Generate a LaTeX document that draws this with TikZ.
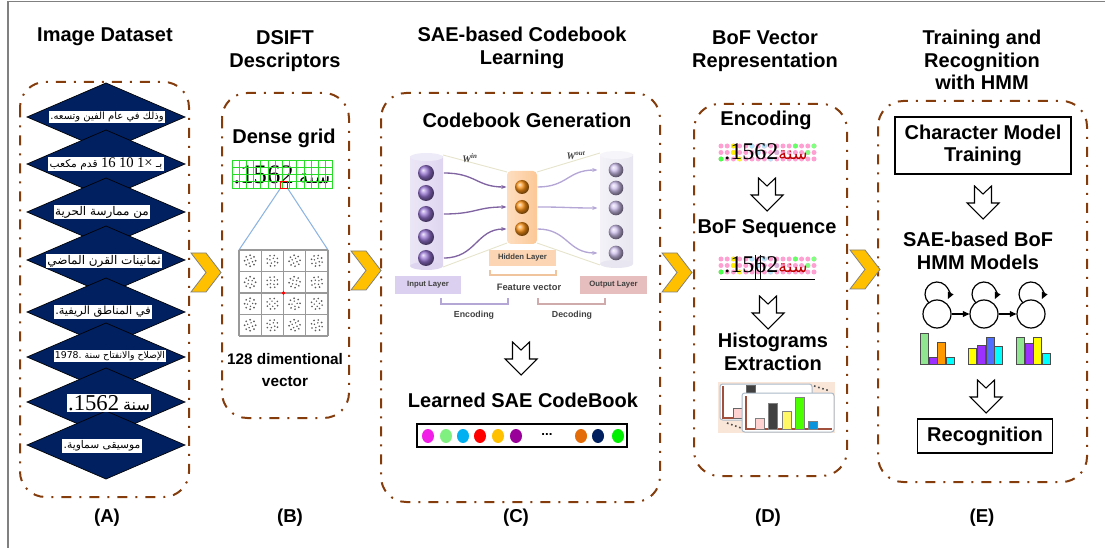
\documentclass[tikz,border=0pt]{standalone}
\usepackage{fontspec}
\setmainfont{Liberation Sans}
\newfontfamily\arabicfont[Script=Arabic]{DejaVu Sans}
\newfontfamily\serifnum{Liberation Serif}
\TeXXeTstate=1
\usetikzlibrary{arrows.meta}

\definecolor{stagebrown}{RGB}{132,60,12}
\definecolor{dsnavy}{RGB}{0,32,96}
\definecolor{chevyellow}{RGB}{255,192,0}
\definecolor{framegray}{RGB}{128,128,128}
\definecolor{gridgreen}{RGB}{40,220,40}
\definecolor{linkblue}{RGB}{141,180,226}
\definecolor{inball}{RGB}{150,115,210}
\definecolor{hidball}{RGB}{250,145,20}
\definecolor{outball}{RGB}{205,190,235}
\definecolor{inbody}{RGB}{222,214,240}
\definecolor{outbody}{RGB}{232,230,240}
\definecolor{hidbody}{RGB}{252,200,150}
\definecolor{inlbl}{RGB}{220,208,240}
\definecolor{hidlbl}{RGB}{252,214,180}
\definecolor{outlbl}{RGB}{230,190,190}
\definecolor{lbltext}{RGB}{64,64,64}
\definecolor{encline}{RGB}{128,100,162}
\definecolor{decline}{RGB}{180,167,214}
\definecolor{faint}{RGB}{230,228,205}
\definecolor{pinkdot}{RGB}{255,160,210}
\definecolor{histbg}{RGB}{250,230,216}
\definecolor{cardedge}{RGB}{170,185,200}
\definecolor{axisbrown}{RGB}{160,80,60}
\definecolor{cbA}{RGB}{240,30,230}
\definecolor{cbB}{RGB}{128,240,128}
\definecolor{cbC}{RGB}{0,176,240}
\definecolor{cbD}{RGB}{255,0,0}
\definecolor{cbE}{RGB}{255,192,0}
\definecolor{cbF}{RGB}{153,0,153}
\definecolor{cbG}{RGB}{227,108,9}
\definecolor{cbH}{RGB}{0,32,96}
\definecolor{cbI}{RGB}{0,240,0}
\definecolor{hgreen}{RGB}{144,230,144}
\definecolor{hpurple}{RGB}{155,48,255}
\definecolor{horange}{RGB}{255,153,0}
\definecolor{hcyan}{RGB}{0,255,255}
\definecolor{hyellow}{RGB}{255,255,0}
\definecolor{hblue}{RGB}{80,110,255}

\tikzset{every picture/.style={line width=0.75pt}}
\tikzset{
  stagebox/.style={draw=stagebrown, line width=1.5pt, rounded corners=19pt, dash pattern=on 7.5pt off 6pt on 1.5pt off 6pt},
  headtxt/.style={font=\bfseries\fontsize{15}{17}\selectfont, align=center, inner sep=0pt},
  tagtxt/.style={font=\bfseries\fontsize{14}{16}\selectfont, inner sep=0pt},
  dsdiamond/.style={draw=black, line width=0.5pt, fill=dsnavy},
  arstrip/.style={fill=white, inner sep=1pt},
  chevron/.style={draw=framegray, line width=0.6pt, fill=chevyellow},
  layerlbl/.style={font=\bfseries\fontsize{5.8}{6}\selectfont, text=lbltext, minimum width=50pt, minimum height=14pt, inner sep=0pt},
  smalltxt/.style={font=\bfseries\fontsize{6.6}{7}\selectfont, text=lbltext, inner sep=0pt},
  incell/.style={circle, shade, ball color=inball, minimum size=12pt, inner sep=0pt},
  hidcell/.style={circle, shade, ball color=hidball, minimum size=10.5pt, inner sep=0pt},
  outcell/.style={circle, shade, ball color=outball, minimum size=11pt, inner sep=0pt},
  hmmstate/.style={circle, draw, line width=0.9pt, minimum size=21pt, inner sep=0pt},
  hmmarrow/.style={line width=0.9pt, -{Triangle[length=5pt,width=4.5pt]}},
  histbar/.style={draw=black!70, line width=0.6pt},
  hollowdown/.pic={\draw[line width=0.8pt, fill=white] (-8.5,16) -- (0,8) -- (8.5,16) -- (8.5,-1) -- (16,-1) -- (0,-17) -- (-16,-1) -- (-8.5,-1) -- cycle;}
}

\begin{document}
\begin{tikzpicture}[x=0.75pt,y=0.75pt,yscale=-1,xscale=1]
\useasboundingbox (0,0) rectangle (1105,548);

%Frame
\draw[framegray, line width=1.2pt] (8,548) -- (8,1.5) -- (1105,1.5);

%Stage titles
\node[headtxt] (titleA) at (105,37) {Image Dataset};
\node[headtxt] (titleB) at (285,51) {DSIFT\\Descriptors};
\node[headtxt] (titleC) at (522,48) {SAE-based Codebook\\Learning};
\node[headtxt] (titleD) at (765,51) {BoF Vector\\Representation};
\node[headtxt] (titleE) at (982,60) {Training and\\Recognition\\with HMM};

%Stage frames
\draw[stagebox] (20,82) rectangle (189,497);
\draw[stagebox] (222,93) rectangle (349,418);
\draw[stagebox] (381,93) rectangle (660,502);
\draw[stagebox] (694,104) rectangle (847,476);
\draw[stagebox] (878,101) rectangle (1087,482);

%Chevrons between stages
\foreach \xc/\yc in {191/253, 351/251, 662/253, 850/250}
  \draw[chevron] (\xc,\yc) -- ++(15,0) -- ++(15,19.5) -- ++(-15,19.5) -- ++(-15,0) -- ++(15,-19.5) -- cycle;

%Shape: Diamonds (image dataset)
\foreach \yc in {117,164,212,260,312,357,402,445}
  \draw[dsdiamond] (106,\yc-34) -- (185,\yc) -- (106,\yc+34) -- (27,\yc) -- cycle;
\node[arstrip, font=\arabicfont\fontsize{7.5}{8}\selectfont] (line1) at (107,117) {\beginR وذلك في عام الفين وتسعه.\endR};
\node[arstrip, font=\arabicfont\fontsize{8}{9}\selectfont] (line2) at (106,164) {\beginR بـ {\serifnum\fontsize{11}{11}\selectfont 1×} {\serifnum\fontsize{11}{11}\selectfont 10} {\serifnum\fontsize{11}{11}\selectfont 16} قدم مكعب\endR};
\node[arstrip, font=\arabicfont\fontsize{9}{10}\selectfont] (line3) at (102,212) {\beginR من ممارسة الحرية\endR};
\node[arstrip, font=\arabicfont\fontsize{9}{10}\selectfont] (line4) at (104,261) {\beginR ثمانينات القرن الماضي\endR};
\node[arstrip, font=\arabicfont\fontsize{8.5}{9}\selectfont] (line5) at (103,312) {\beginR في المناطق الريفية.\endR};
\node[arstrip, font=\arabicfont\fontsize{7}{8}\selectfont] (line6) at (110,356) {\beginR الإصلاح والانفتاح سنة \beginL.1978\endL\endR};
\node[arstrip] (line7) at (109,403) {{\serifnum\fontsize{17}{17}\selectfont .1562}\hspace{3pt}{\arabicfont\fontsize{12}{12}\selectfont سنة}};
\node[arstrip, font=\arabicfont\fontsize{8}{9}\selectfont] (line8) at (102,446) {\beginR موسيقى سماوية.\endR};

%DSIFT descriptors
\node[headtxt] (denseHd) at (284,138) {Dense grid};
\node[inner sep=0pt] (denseTxt) at (282,175) {{\serifnum\fontsize{20}{20}\selectfont .1562}\hspace{4pt}{\arabicfont\fontsize{14}{14}\selectfont سنة}};
\foreach \k in {0,...,14} \draw[gridgreen, line width=0.6pt] (232+\k*7.2,160) -- (232+\k*7.2,188);
\foreach \k in {0,...,4} \draw[gridgreen, line width=0.6pt] (232,160+\k*7) -- (333,160+\k*7);
\node[draw=red, line width=1.2pt, minimum size=5pt, inner sep=0pt] (patch) at (284,185) {};
\coordinate (siftNW) at (239,250);
\coordinate (siftNE) at (328,250);
\draw[linkblue, line width=0.8pt] (patch.south west) -- (siftNW);
\draw[linkblue, line width=0.8pt] (patch.south east) -- (siftNE);
\foreach \k in {0,...,4} {
  \draw[black!40, line width=1pt] (239+\k*22.25,250) -- (239+\k*22.25,336);
  \draw[black!40, line width=1pt] (239,250+\k*21.5) -- (328,250+\k*21.5);
}
\foreach \cx in {0,...,3} \foreach \cy in {0,...,3} {
  \foreach \a in {0,45,...,315}
    \fill[black!65] ({250.1+\cx*22.25+5.5*cos(\a+\cx*20)}, {260.75+\cy*21.5+5.5*sin(\a+\cx*20)}) circle (0.9);
  \foreach \a in {22,112,202,292}
    \fill[black!65] ({250.1+\cx*22.25+2.6*cos(\a+\cy*30)}, {260.75+\cy*21.5+2.6*sin(\a+\cy*30)}) circle (0.8);
}
\fill[red] (283.5,293) circle (1.8);
\node[font=\bfseries\fontsize{11.5}{17}\selectfont, align=center, inner sep=0pt] (dimTxt) at (285,370) {128 dimentional\\vector};

%SAE codebook generation
\node[headtxt] (cgenHd) at (527,120) {Codebook Generation};
\draw[faint, line width=0.7pt] (443,155) -- (507,172);
\draw[faint, line width=0.7pt] (443,267) -- (507,243);
\draw[faint, line width=0.7pt] (537,172) -- (600,153);
\draw[faint, line width=0.7pt] (537,243) -- (600,265);
\shade[left color=inbody!60, right color=inbody] (410,157) rectangle (443,266);
\fill[inbody] (426.5,266) ellipse (16.5 and 4);
\fill[inbody!50] (426.5,157) ellipse (16.5 and 4);
\shade[left color=outbody!50, right color=outbody] (600,155) rectangle (633,264);
\fill[outbody] (616.5,264) ellipse (16.5 and 4);
\fill[outbody!40] (616.5,155) ellipse (16.5 and 4);
\shade[left color=hidbody!60, right color=hidbody, rounded corners=3pt] (507,171) rectangle (537,244);
\node[font=\serifnum\bfseries\itshape\fontsize{7.5}{7.5}\selectfont, text=lbltext] (win) at (470,158) {W\textsuperscript{in}};
\node[font=\serifnum\bfseries\itshape\fontsize{7.5}{7.5}\selectfont, text=lbltext] (wout) at (576,156) {W\textsuperscript{out}};
\foreach \yc [count=\i] in {173,193,214,237,258} \node[incell] (in\i) at (426,\yc) {};
\foreach \yc [count=\i] in {187,207,229} \node[hidcell] (hid\i) at (522,\yc) {};
\foreach \yc [count=\i] in {170,188,208,232,253} \node[outcell] (out\i) at (616,\yc) {};
\foreach \a/\b in {1/1, 3/2, 5/3}
  \draw[encline, line width=1pt, -{Stealth[length=4pt]}] ([xshift=7pt]in\a.east) .. controls +(32,0) and +(-30,0) .. ([xshift=-6pt]hid\b.west);
\foreach \a/\b in {1/1, 2/3, 3/5}
  \draw[decline, line width=1pt, -{Stealth[length=4pt]}] ([xshift=6pt]hid\a.east) .. controls +(30,0) and +(-30,0) .. ([xshift=-8pt]out\b.west);
\node[layerlbl, fill=hidlbl, minimum height=12pt] (hidLbl) at (522.5,258) {Hidden Layer};
\node[layerlbl, fill=inlbl] (inLbl) at (428,285) {Input Layer};
\node[layerlbl, fill=outlbl] (outLbl) at (613.5,285) {Output Layer};
\draw[hidlbl!80!brown, line width=0.9pt] (490,270) -- (490,275) -- (556,275) -- (556,270);
\node[smalltxt, font=\bfseries\fontsize{7}{7}\selectfont] (featTxt) at (529,287) {Feature vector};
\draw[decline, line width=0.9pt] (441,298) -- (441,304) -- (508,304) -- (508,298);
\draw[outlbl!90!black, line width=0.9pt] (538,298) -- (538,304) -- (605,304) -- (605,298);
\node[smalltxt] (encTxt) at (474,315) {Encoding};
\node[smalltxt] (decTxt) at (572,315) {Decoding};
\pic at (521,358) {hollowdown};
\node[headtxt] (learnHd) at (523,400) {Learned SAE CodeBook};
\node[draw, line width=1.5pt, minimum width=157pt, minimum height=17pt, inner sep=0pt] (cbook) at (522,435.5) {};
\foreach \xc/\cc in {428/cbA, 446/cbB, 463/cbC, 480/cbD, 498/cbE, 516/cbF, 581/cbG, 598/cbH, 618/cbI}
  \fill[\cc] (\xc,436) ellipse (6 and 7);
\node[font=\bfseries\fontsize{10}{10}\selectfont, inner sep=0pt] (cbDots) at (547,435) {...};

%BoF vector representation
\node[headtxt] (encHd) at (766,120) {Encoding};
\foreach \r in {0,1,2} \foreach \c in {0,...,15}
  \fill[pinkdot] (721+\c*6.2,146+\r*6.5) circle (2.5);
\foreach \c/\r/\cc in {2/0/yellow, 2/1/yellow, 3/2/yellow!80, 0/2/green!70, 5/0/cyan!30, 6/1/cyan!30, 7/0/cyan!30, 8/2/cyan!30, 9/1/violet!30, 12/0/green!60, 14/1/green!50, 15/0/green!50}
  \fill[\cc] (721+\c*6.2,146+\r*6.5) circle (2.5);
\node[inner sep=0pt] (encWord) at (766,152) {{\serifnum\fontsize{18}{18}\selectfont .1562}{\arabicfont\color{red!75!black}\fontsize{13}{13}\selectfont سنة}};
\pic at (767,194) {hollowdown};
\node[headtxt] (bofHd) at (767,229) {BoF Sequence};
\foreach \r in {0,1,2} \foreach \c in {0,...,15}
  \fill[pinkdot] (721+\c*6.2,259+\r*6.5) circle (2.5);
\foreach \c/\r/\cc in {2/0/yellow, 2/1/yellow, 3/2/yellow!80, 0/2/green!70, 5/0/cyan!30, 6/1/cyan!30, 7/0/cyan!30, 8/2/cyan!30, 9/1/violet!30, 12/0/green!60, 14/1/green!50, 15/0/green!50}
  \fill[\cc] (721+\c*6.2,259+\r*6.5) circle (2.5);
\node[inner sep=0pt] (bofWord) at (766,265) {{\serifnum\fontsize{18}{18}\selectfont .1562}{\arabicfont\color{red!75!black}\fontsize{13}{13}\selectfont سنة}};
\draw[black, line width=0.6pt] (720,279) -- (815,279);
\draw[black, line width=0.6pt] (755,255) -- (755,279);
\draw[black, line width=0.6pt] (760,255) -- (760,279);
\pic at (768,312) {hollowdown};
\node[headtxt] (histHd) at (773,352) {Histograms\\Extraction};
\fill[histbg] (718,382) rectangle (835,433);
\draw[cardedge, fill=white, rounded corners=2pt] (720,384) rectangle (812,420);
\draw[axisbrown, line width=0.8pt] (723,386) -- (723,418) -- (742,418);
\draw[black!60, fill=pink!70] (733,408) rectangle (742,418);
\draw[black!60, fill=black!75] (746,385) rectangle (755,393);
\draw[black!70, dotted, line width=1.2pt] (814,386) -- (830,391);
\draw[black!70, dotted, line width=1.2pt] (727,423) -- (741,428);
\draw[cardedge, fill=white, rounded corners=2pt] (742,393) rectangle (834,432);
\draw[axisbrown, line width=0.8pt] (746,396) -- (746,429) -- (832,429);
\foreach \xa/\yt/\cc in {755/418/pink!70, 768/403/black!75, 782/411/yellow!60, 795/397/green!60!lime, 808/421/cyan!80!blue}
  \draw[black!50, fill=\cc] (\xa,\yt) rectangle (\xa+9,429);

%Training and recognition with HMM
\node[draw, line width=0.8pt, headtxt, minimum width=132pt, minimum height=42.75pt] (charTrain) at (983,145.5) {Character Model\\Training};
\pic at (983,202) {hollowdown};
\node[headtxt] (saeHmm) at (978,251) {SAE-based BoF\\HMM Models};
\foreach \xc [count=\i] in {937,984,1031} {
  \node[hmmstate] (st\i) at (\xc,314) {};
  \draw[hmmarrow] ([xshift=-6.2pt,yshift=-8.5pt]st\i.center) arc[start angle=133.6, end angle=385, radius=12];
}
\draw[hmmarrow] (st1) -- (st2);
\draw[hmmarrow] (st2) -- (st3);
\foreach \xa/\yt/\cc in {920/333/hgreen, 929/357/hpurple, 937/342/horange, 946/357/hcyan,
                         968/348/hyellow, 977/345/hpurple, 986/337/hblue, 994/346/hcyan,
                         1016/337/hgreen, 1025/343/hpurple, 1033/337/hyellow, 1042/353/hcyan}
  \draw[histbar, fill=\cc] (\xa,\yt) rectangle (\xa+8.6,364);
\pic at (986,396) {hollowdown};
\node[draw, line width=0.8pt, headtxt, minimum width=101pt, minimum height=25.5pt] (recog) at (985,436) {Recognition};

%Stage tags
\node[tagtxt] (tagA) at (107,518) {(A)};
\node[tagtxt] (tagB) at (290,518) {(B)};
\node[tagtxt] (tagC) at (516,518) {(C)};
\node[tagtxt] (tagD) at (768,518) {(D)};
\node[tagtxt] (tagE) at (982,518) {(E)};
\end{tikzpicture}
\end{document}
